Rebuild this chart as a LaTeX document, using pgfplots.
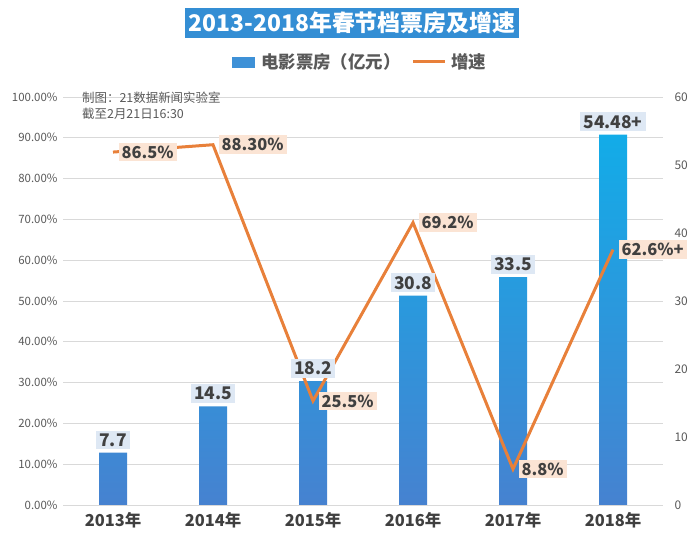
\documentclass[border=0pt]{standalone}
\usepackage{pgfplots}
\pgfplotsset{compat=1.18}
\usepackage{fontspec}
\setmainfont{Noto Sans CJK SC}
\definecolor{barTop}{RGB}{18,172,232}
\definecolor{barBot}{RGB}{70,130,208}
\definecolor{legBlue}{RGB}{62,145,215}
\definecolor{lineOr}{RGB}{232,128,58}
\definecolor{titleBlue}{RGB}{52,142,212}
\definecolor{tickGray}{RGB}{89,89,89}
\definecolor{txtDark}{RGB}{64,64,64}
\definecolor{barLblBg}{RGB}{222,232,244}
\definecolor{lineLblBg}{RGB}{251,228,212}
\definecolor{gridGray}{RGB}{217,217,217}
\begin{document}
\begin{tikzpicture}[x=1bp,y=1bp]
\useasboundingbox (0,0) rectangle (700,546);
\pgfplotsset{
  base/.style={scale only axis, width=600bp, height=408bp, at={(63bp,41bp)}, anchor=south west,
    xmin=-0.5, xmax=5.5, axis line style={draw=none}, major tick length=0pt,
    /pgf/number format/assume math mode=true, clip=false}
}
% grid, left ticks, x ticks
\begin{axis}[base, ymin=0, ymax=100, ytick={0,10,...,100}, ymajorgrids,
  grid style={gridGray, line width=0.8bp},
  yticklabel={\pgfmathprintnumber[fixed,fixed zerofill,precision=2]{\tick}\%},
  yticklabel style={font=\fontsize{11.5}{13}\selectfont, text=tickGray, xshift=-2bp},
  xtick={0,1,2,3,4,5},
  xticklabels={2013年,2014年,2015年,2016年,2017年,2018年},
  xticklabel style={font=\fontsize{16.5}{19}\selectfont\bfseries, text=txtDark, yshift=-4bp}]
\end{axis}
% bars, right axis
\begin{axis}[base, ymin=0, ymax=60, axis y line*=right, axis x line=none,
  ytick={0,10,...,60},
  yticklabel style={font=\fontsize{12}{14}\selectfont, text=tickGray, xshift=8bp},
  ybar, bar width=28bp]
\addplot[draw=none, top color=barTop, bottom color=barBot] coordinates {
  (0,7.7) (1,14.5) (2,18.2) (3,30.8) (4,33.5) (5,54.48)};
\end{axis}
% growth line
\begin{axis}[base, ymin=0, ymax=100, axis x line=none, axis y line=none,
  nodes near coords, point meta=explicit symbolic,
  every node near coord/.append style={anchor=west, fill=lineLblBg, text=txtDark,
    font=\fontsize{16.5}{19}\selectfont\bfseries, inner sep=3bp, xshift=4bp}]
\addplot[lineOr, line width=3bp, mark=none] coordinates {
  (0,86.5)[86.5\%] (1,88.3)[88.30\%] (2,25.5)[25.5\%] (3,69.2)[69.2\%] (4,8.8)[8.8\%] (5,62.6)[62.6\%+]};
\end{axis}
% bar labels on top
\begin{axis}[base, ymin=0, ymax=60, axis x line=none, axis y line=none,
  ybar, bar width=28bp,
  nodes near coords, point meta=explicit symbolic,
  every node near coord/.append style={anchor=south, fill=barLblBg, text=txtDark,
    font=\fontsize{17.5}{20}\selectfont\bfseries, inner sep=3bp, yshift=3bp}]
\addplot[draw=none, fill=none] coordinates {
  (0,7.7)[7.7] (1,14.5)[14.5] (2,18.2)[18.2] (3,30.8)[30.8] (4,33.5)[33.5] (5,54.48)[54.48+]};
\end{axis}
% title
\node[fill=titleBlue, text=white, font=\fontsize{23}{27}\selectfont\bfseries, inner xsep=4bp, inner ysep=4bp]
  at (352,523) {2013-2018年春节档票房及增速};
% legend
\fill[legBlue] (232,478) rectangle (255,489);
\node[anchor=west, inner sep=0, font=\fontsize{17.5}{20}\selectfont\bfseries, text=tickGray] at (261,484) {电影票房（亿元）};
\draw[lineOr, line width=3bp] (413,484) -- (445,484);
\node[anchor=west, inner sep=0, font=\fontsize{17.5}{20}\selectfont\bfseries, text=tickGray] at (451,484) {增速};
% note
\node[anchor=north west, align=left, inner sep=0, font=\fontsize{12.5}{16}\selectfont, text=tickGray]
  at (82,454) {制图：21数据新闻实验室\\截至2月21日16:30};
\end{tikzpicture}
\end{document}
